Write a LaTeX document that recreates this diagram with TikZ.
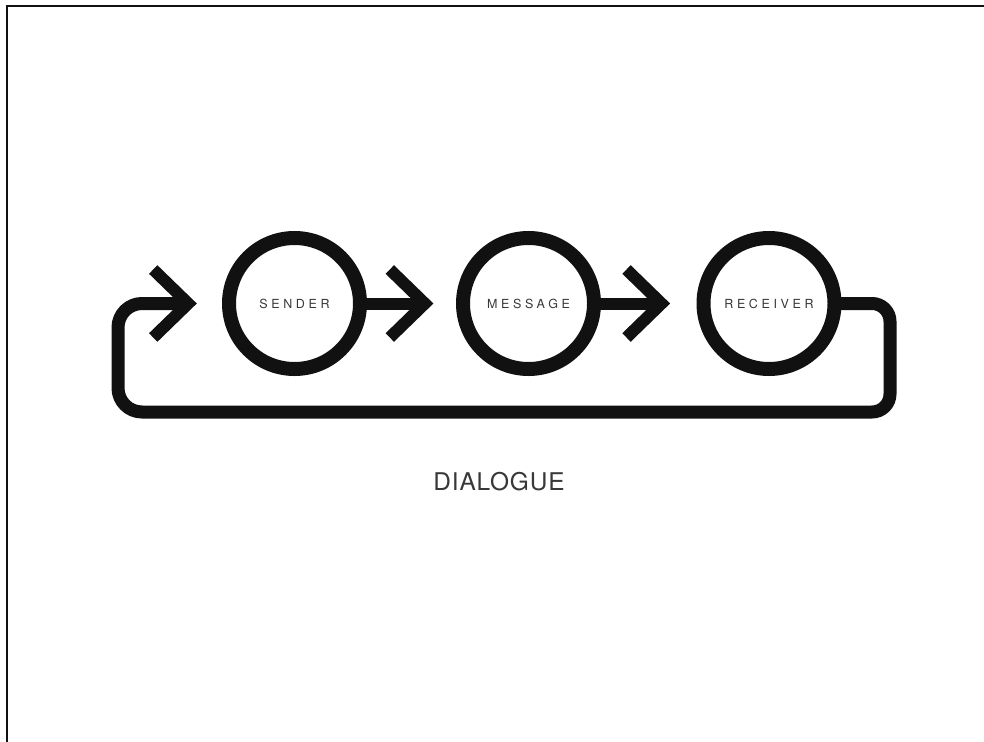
\documentclass[tikz,border=0pt]{standalone}
\usepackage{fontspec}
\setmainfont{TeX Gyre Heros}
\newfontfamily\lblfont[LetterSpace=29]{TeX Gyre Heros}
\newfontfamily\titlefont[LetterSpace=3.5]{TeX Gyre Heros}
\usetikzlibrary{calc}
\definecolor{ink}{HTML}{111111}
\definecolor{txt}{HTML}{383838}
\begin{document}
\begin{tikzpicture}[x=1pt,y=-1pt,
  ring/.style={circle,draw=ink,line width=14pt,minimum size=131pt,inner sep=0pt,fill=white,
    font=\lblfont\fontsize{12.5}{14}\selectfont,text=txt},
  shaft/.style={draw=ink,line width=12pt},
  chev/.style={draw=ink,line width=12pt,line join=miter,miter limit=10},
  loopline/.style={draw=ink,line width=13pt},
  frame/.style={draw=ink,line width=2.5pt,line join=miter},
  title/.style={font=\titlefont\fontsize{24.4}{28}\selectfont,text=txt,anchor=base}
  ]
\useasboundingbox (0,0) rectangle (984,741);
\fill[white] (0,0) rectangle (984,741);
\draw[frame] (7,750) -- (7,6) -- (995,6);

\node[ring] (sender) at (294.5,303.5) {SENDER};
\node[ring] (message) at (528.5,303.5) {MESSAGE};
\node[ring] (receiver) at (769,303.5) {RECEIVER};

\coordinate (t0) at (188.2,303.5);
\coordinate (t1) at (424.8,303.5);
\coordinate (t2) at (661.5,303.5);

% sender -> message
\draw[shaft] ([xshift=-4pt]sender.east) -- (t1);
\draw[chev] ($(t1)+(-35,-34)$) -- (t1) -- ($(t1)+(-35,34)$);
% message -> receiver
\draw[shaft] ([xshift=-4pt]message.east) -- (t2);
\draw[chev] ($(t2)+(-35,-34)$) -- (t2) -- ($(t2)+(-35,34)$);
% feedback loop receiver -> sender
\draw[loopline] ([xshift=-4pt]receiver.east) [rounded corners=18pt] -- (890,303.5) -- (890,412)
  [rounded corners=24pt] -- (118,412) -- (118,303.5) -- (t0);
\draw[chev] ($(t0)+(-35,-34)$) -- (t0) -- ($(t0)+(-35,34)$);

\node[title] (dialogue) at (499,490.5) {DIALOGUE};
\end{tikzpicture}
\end{document}
